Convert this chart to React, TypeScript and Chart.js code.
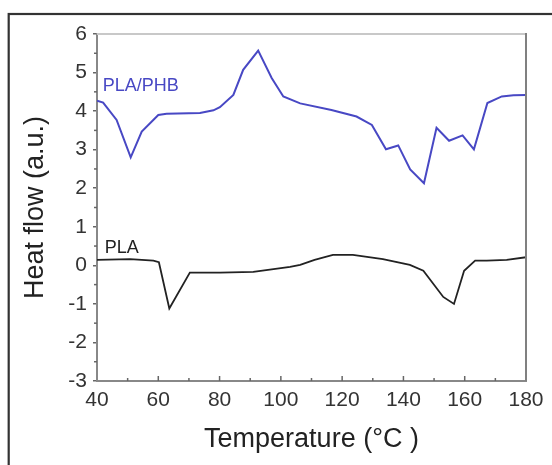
import React, { useEffect, useRef } from "react";
import { Chart, registerables } from "chart.js";

Chart.register(...registerables);

const tempPHB = [40, 42, 46.4, 51, 54.6, 60, 62.7, 73.6, 78, 80.1, 84.5, 87.7, 92.6, 97, 100.8, 106.3, 116.5, 124.7, 129.7, 134.3, 138.3, 142.2, 146.7, 150.8, 154.9, 159.3, 163, 167.4, 172.1, 175.9, 180];
const heatPHB = [4.27, 4.22, 3.77, 2.8, 3.47, 3.9, 3.93, 3.95, 4.02, 4.1, 4.42, 5.07, 5.57, 4.86, 4.38, 4.2, 4.03, 3.86, 3.64, 3.01, 3.11, 2.49, 2.13, 3.57, 3.23, 3.37, 3.01, 4.21, 4.38, 4.41, 4.42];

const tempPLA = [40, 50.8, 58.4, 60.2, 63.6, 70.3, 80.1, 91, 103, 106.3, 111, 117, 123.5, 133.3, 142.1, 146.5, 153, 156.5, 159.8, 163.4, 167.2, 173.7, 180];
const heatPLA = [0.14, 0.16, 0.12, 0.08, -1.12, -0.19, -0.19, -0.17, -0.04, 0.01, 0.14, 0.27, 0.27, 0.16, 0.01, -0.14, -0.82, -1.0, -0.14, 0.12, 0.12, 0.14, 0.21];

const seriesNames = ["PLA/PHB", "PLA"];
const labelPos = [
  { x: 41.9, y: 4.66 },
  { x: 42.5, y: 0.45 },
];
const seriesColors = ["#4848c4", "#222222"];

const xTitle = "Temperature (°C )";
const yTitle = "Heat flow (a.u.)";
const xRange = { min: 40, max: 180, step: 20 };
const yRange = { min: -3, max: 6, step: 1 };

const FONT = "'Liberation Sans', Arial, sans-serif";

const framePlugin = {
  id: "framePlugin",
  afterDraw(chart: any) {
    const { ctx, chartArea } = chart;
    const xs = chart.scales.x;
    const ys = chart.scales.y;
    ctx.save();
    // outer frame
    ctx.strokeStyle = "#333";
    ctx.lineWidth = 2.2;
    ctx.strokeRect(8.7, 14, 800, 800);
    // top border
    ctx.strokeStyle = "#c8c8c8";
    ctx.lineWidth = 2;
    ctx.beginPath();
    ctx.moveTo(chartArea.left, chartArea.top);
    ctx.lineTo(chartArea.right, chartArea.top);
    ctx.stroke();
    // right border
    ctx.strokeStyle = "#808080";
    ctx.lineWidth = 2;
    ctx.beginPath();
    ctx.moveTo(chartArea.right, chartArea.top - 1);
    ctx.lineTo(chartArea.right, chartArea.bottom);
    ctx.stroke();
    // x ticks inward (major + minor)
    ctx.strokeStyle = "#666";
    ctx.lineWidth = 1.5;
    for (let v = xRange.min + xRange.step / 2; v < xRange.max; v += xRange.step / 2) {
      const px = xs.getPixelForValue(v);
      const major = Math.abs((v - xRange.min) % xRange.step) < 1e-6;
      ctx.beginPath();
      ctx.moveTo(px, chartArea.bottom);
      ctx.lineTo(px, chartArea.bottom - (major ? 5 : 3));
      ctx.stroke();
    }
    // y minor ticks
    for (let v = yRange.min + yRange.step / 2; v < yRange.max; v += yRange.step) {
      const py = ys.getPixelForValue(v);
      ctx.beginPath();
      ctx.moveTo(chartArea.left, py);
      ctx.lineTo(chartArea.left - 3, py);
      ctx.stroke();
    }
    // series labels
    ctx.font = `18px ${FONT}`;
    ctx.textBaseline = "middle";
    ctx.textAlign = "left";
    labelPos.forEach((p, i) => {
      ctx.fillStyle = seriesColors[i];
      ctx.fillText(seriesNames[i], xs.getPixelForValue(p.x), ys.getPixelForValue(p.y));
    });
    ctx.restore();
  },
};

export default function App() {
  const ref = useRef<HTMLCanvasElement | null>(null);
  useEffect(() => {
    document.body.style.margin = "0";
    if (!ref.current) return;
    const chart = new Chart(ref.current, {
      type: "line",
      data: {
        datasets: [
          {
            label: seriesNames[0],
            data: tempPHB.map((t, i) => ({ x: t, y: heatPHB[i] })),
            borderColor: seriesColors[0],
            borderWidth: 2,
            pointRadius: 0,
            tension: 0,
            fill: false,
          },
          {
            label: seriesNames[1],
            data: tempPLA.map((t, i) => ({ x: t, y: heatPLA[i] })),
            borderColor: seriesColors[1],
            borderWidth: 1.8,
            pointRadius: 0,
            tension: 0,
            fill: false,
          },
        ],
      },
      options: {
        animation: false,
        responsive: false,
        layout: { padding: { left: 0, top: 34, right: 26, bottom: 0 } },
        plugins: { legend: { display: false }, tooltip: { enabled: false } },
        scales: {
          x: {
            type: "linear",
            min: xRange.min,
            max: xRange.max,
            afterFit: (s: any) => {
              s.height = 84;
            },
            grid: { display: true, drawOnChartArea: false, drawTicks: false },
            border: { display: true, color: "#888", width: 2 },
            ticks: {
              stepSize: xRange.step,
              padding: 7,
              color: "#333",
              font: { family: FONT, size: 21 },
              maxRotation: 0,
            },
            title: {
              display: true,
              text: xTitle,
              color: "#222",
              font: { family: FONT, size: 27 },
              padding: { top: 0, bottom: 9 },
            },
          },
          y: {
            type: "linear",
            min: yRange.min,
            max: yRange.max,
            afterFit: (s: any) => {
              s.width = 97;
            },
            grid: { display: true, drawOnChartArea: false, drawTicks: true, tickLength: 4, color: "#666", lineWidth: 1.5 },
            border: { display: true, color: "#888", width: 2 },
            ticks: {
              stepSize: yRange.step,
              padding: 6,
              color: "#333",
              font: { family: FONT, size: 21 },
            },
            title: {
              display: true,
              text: yTitle,
              color: "#222",
              font: { family: FONT, size: 27 },
              padding: { top: 19, bottom: 0 },
            },
          },
        },
      },
      plugins: [framePlugin],
    });
    return () => chart.destroy();
  }, []);
  return (
    <div style={{ position: "absolute", left: 0, top: 0, width: 552, height: 465, background: "#fff" }}>
      <canvas ref={ref} width={552} height={465} style={{ width: 552, height: 465 }} />
    </div>
  );
}
